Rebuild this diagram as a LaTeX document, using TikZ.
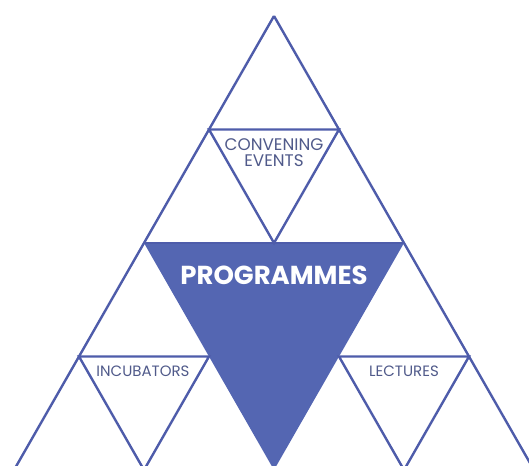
\documentclass[tikz,border=0pt]{standalone}
\usepackage{fontspec}
\setmainfont{Poppins}
\usepackage{tikz}

\definecolor{lineblue}{RGB}{78,92,170}
\definecolor{fillblue}{RGB}{84,102,178}
\definecolor{labelgrey}{RGB}{80,90,138}

\tikzset{
  edge/.style={draw=lineblue, line width=2.4pt, line join=miter},
  label/.style={text=labelgrey, font=\fontsize{15}{15}\selectfont, align=center, inner sep=0pt},
  toplabel/.style={label, font=\fontsize{16.8}{15.5}\selectfont},
  biglabel/.style={text=white, font=\fontsize{26}{28}\bfseries\selectfont, inner sep=0pt}
}

\begin{document}
\begin{tikzpicture}[x=1pt, y=-1pt]
    \useasboundingbox (0,0) rectangle (529,465);
    \clip (0,0) rectangle (529,465);
    % lattice points
    \coordinate (top) at (274,16);
    \coordinate (l1) at (209,129.5);
    \coordinate (r1) at (339,129.5);
    \coordinate (l2) at (144,243);
    \coordinate (m2) at (274,243);
    \coordinate (r2) at (404,243);
    \coordinate (l3) at (79,356.5);
    \coordinate (ml3) at (209,356.5);
    \coordinate (mr3) at (339,356.5);
    \coordinate (r3) at (469,356.5);
    \coordinate (b1) at (14,470);
    \coordinate (b2) at (144,470);
    \coordinate (b3) at (274,470);
    \coordinate (b4) at (404,470);
    \coordinate (b5) at (534,470);
    % programmes (filled)
    \fill[fillblue] (l2) -- (r2) -- (b3) -- cycle;
    \begin{scope}[edge]
      \draw (top) -- (b1);
      \draw (top) -- (b5);
      \draw (l1) -- (r1) -- (m2) -- cycle;
      \draw (l2) -- (r2);
      \draw (l3) -- (ml3) -- (b2) -- cycle;
      \draw (mr3) -- (r3) -- (b4) -- cycle;
    \end{scope}
    \node[toplabel] (conv) at (274,152.5) {CONVENING\\EVENTS};
    \node[label] (incu) at (143,371) {INCUBATORS};
    \node[label] (lect) at (404,371) {LECTURES};
    \node[biglabel] (prog) at (274,275.5) {PROGRAMMES};
\end{tikzpicture}
\end{document}
